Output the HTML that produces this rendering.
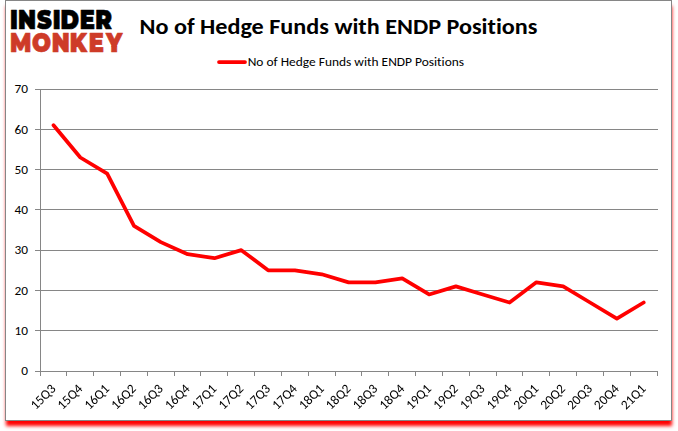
<!DOCTYPE html>
<html><head><meta charset="utf-8"><style>
html,body{margin:0;padding:0;background:#fff;}
body{width:678px;height:431px;position:relative;overflow:hidden;}
.frame{position:absolute;left:5px;top:0;width:665px;height:419px;border:1px solid #868686;background:#fff;box-shadow:0.5px 5.5px 3.5px -0.5px #ff0000;}
svg{position:absolute;left:0;top:0;font-variant-ligatures:none;font-feature-settings:"liga" 0,"clig" 0;}
.xl{will-change:transform;}
.ax{font-family:Carlito,"Liberation Sans",sans-serif;font-size:13.333px;fill:#000;}
.logo{font-family:Montserrat,"DejaVu Sans","Liberation Sans",sans-serif;font-weight:900;font-size:25.9px;stroke-width:0.6px;stroke-linejoin:round;}
.title{font-family:Carlito,"Liberation Sans",sans-serif;font-size:24.2px;font-weight:bold;fill:#000;}
</style></head><body>
<div class="frame"></div>
<svg width="678" height="431" viewBox="0 0 678 431">

<text class="logo" transform="translate(0,28.5) scale(0.864,1)" x="11.60 20.72 42.74 60.96 70.08 92.25 110.34" y="0" fill="#000" stroke="#000">INSIDER</text>
<text class="logo" transform="translate(0,51.6) scale(0.864,1)" x="11.60 37.09 59.84 80.72 102.71 122.97" y="0" fill="#ce3b28" stroke="#ce3b28">MONKEY</text>

<path d="M35 89.5H658 M35 129.5H658 M35 169.5H658 M35 209.5H658 M35 250.5H658 M35 290.5H658 M35 330.5H658 M35 371.5H658 M40.5 89V376 M66.5 372V376 M93.5 372V376 M120.5 372V376 M147.5 372V376 M174.5 372V376 M200.5 372V376 M227.5 372V376 M254.5 372V376 M281.5 372V376 M308.5 372V376 M335.5 372V376 M361.5 372V376 M388.5 372V376 M415.5 372V376 M442.5 372V376 M469.5 372V376 M496.5 372V376 M522.5 372V376 M549.5 372V376 M576.5 372V376 M603.5 372V376 M630.5 372V376 M657.5 372V376" stroke="#868686" stroke-width="1" fill="none" shape-rendering="crispEdges"/><polyline points="53.51,125.26 80.34,157.49 107.17,173.60 133.99,225.97 160.82,242.09 187.64,254.17 214.47,258.20 241.30,250.14 268.12,270.29 294.95,270.29 321.77,274.31 348.60,282.37 375.43,282.37 402.25,278.34 429.08,294.46 455.90,286.40 482.73,294.46 509.56,302.51 536.38,282.37 563.21,286.40 590.03,302.51 616.86,318.63 643.69,302.51" fill="none" stroke="#ff0000" stroke-width="3.75" stroke-linejoin="round" stroke-linecap="round"/><g class="ax"><text transform="translate(28,375.3) scale(1,0.92)" text-anchor="end" textLength="6.765" lengthAdjust="spacingAndGlyphs">0</text><text transform="translate(28,335.3) scale(1,0.92)" text-anchor="end" textLength="13.514" lengthAdjust="spacingAndGlyphs">10</text><text transform="translate(28,295.3) scale(1,0.92)" text-anchor="end" textLength="13.514" lengthAdjust="spacingAndGlyphs">20</text><text transform="translate(28,254.3) scale(1,0.92)" text-anchor="end" textLength="13.514" lengthAdjust="spacingAndGlyphs">30</text><text transform="translate(28,214.3) scale(1,0.92)" text-anchor="end" textLength="13.514" lengthAdjust="spacingAndGlyphs">40</text><text transform="translate(28,174.3) scale(1,0.92)" text-anchor="end" textLength="13.514" lengthAdjust="spacingAndGlyphs">50</text><text transform="translate(28,134.3) scale(1,0.92)" text-anchor="end" textLength="13.514" lengthAdjust="spacingAndGlyphs">60</text><text transform="translate(28,93.3) scale(1,0.92)" text-anchor="end" textLength="13.514" lengthAdjust="spacingAndGlyphs">70</text></g><path d="M219 62H245" stroke="#ff0000" stroke-width="3.75" stroke-linecap="round"/><text transform="translate(247.7,66.1) scale(1,0.93)" class="ax" style="font-size:13.45px" textLength="216.37" lengthAdjust="spacingAndGlyphs">No of Hedge Funds with ENDP Positions</text><text transform="translate(139.5,33.5) scale(1,0.95)" class="title" textLength="397.99" lengthAdjust="spacingAndGlyphs">No of Hedge Funds with ENDP Positions</text>
</svg>
<svg class="xl" width="678" height="431" viewBox="0 0 678 431"><g class="ax"><text transform="translate(56.41,389.6) rotate(-45)" text-anchor="end" textLength="29.234" lengthAdjust="spacingAndGlyphs">15Q3</text><text transform="translate(83.24,389.6) rotate(-45)" text-anchor="end" textLength="29.234" lengthAdjust="spacingAndGlyphs">15Q4</text><text transform="translate(110.07,389.6) rotate(-45)" text-anchor="end" textLength="29.234" lengthAdjust="spacingAndGlyphs">16Q1</text><text transform="translate(136.89,389.6) rotate(-45)" text-anchor="end" textLength="29.234" lengthAdjust="spacingAndGlyphs">16Q2</text><text transform="translate(163.72,389.6) rotate(-45)" text-anchor="end" textLength="29.234" lengthAdjust="spacingAndGlyphs">16Q3</text><text transform="translate(190.54,389.6) rotate(-45)" text-anchor="end" textLength="29.234" lengthAdjust="spacingAndGlyphs">16Q4</text><text transform="translate(217.37,389.6) rotate(-45)" text-anchor="end" textLength="29.234" lengthAdjust="spacingAndGlyphs">17Q1</text><text transform="translate(244.20,389.6) rotate(-45)" text-anchor="end" textLength="29.234" lengthAdjust="spacingAndGlyphs">17Q2</text><text transform="translate(271.02,389.6) rotate(-45)" text-anchor="end" textLength="29.234" lengthAdjust="spacingAndGlyphs">17Q3</text><text transform="translate(297.85,389.6) rotate(-45)" text-anchor="end" textLength="29.234" lengthAdjust="spacingAndGlyphs">17Q4</text><text transform="translate(324.67,389.6) rotate(-45)" text-anchor="end" textLength="29.234" lengthAdjust="spacingAndGlyphs">18Q1</text><text transform="translate(351.50,389.6) rotate(-45)" text-anchor="end" textLength="29.234" lengthAdjust="spacingAndGlyphs">18Q2</text><text transform="translate(378.33,389.6) rotate(-45)" text-anchor="end" textLength="29.234" lengthAdjust="spacingAndGlyphs">18Q3</text><text transform="translate(405.15,389.6) rotate(-45)" text-anchor="end" textLength="29.234" lengthAdjust="spacingAndGlyphs">18Q4</text><text transform="translate(431.98,389.6) rotate(-45)" text-anchor="end" textLength="29.234" lengthAdjust="spacingAndGlyphs">19Q1</text><text transform="translate(458.80,389.6) rotate(-45)" text-anchor="end" textLength="29.234" lengthAdjust="spacingAndGlyphs">19Q2</text><text transform="translate(485.63,389.6) rotate(-45)" text-anchor="end" textLength="29.234" lengthAdjust="spacingAndGlyphs">19Q3</text><text transform="translate(512.46,389.6) rotate(-45)" text-anchor="end" textLength="29.234" lengthAdjust="spacingAndGlyphs">19Q4</text><text transform="translate(539.28,389.6) rotate(-45)" text-anchor="end" textLength="29.234" lengthAdjust="spacingAndGlyphs">20Q1</text><text transform="translate(566.11,389.6) rotate(-45)" text-anchor="end" textLength="29.234" lengthAdjust="spacingAndGlyphs">20Q2</text><text transform="translate(592.93,389.6) rotate(-45)" text-anchor="end" textLength="29.234" lengthAdjust="spacingAndGlyphs">20Q3</text><text transform="translate(619.76,389.6) rotate(-45)" text-anchor="end" textLength="29.234" lengthAdjust="spacingAndGlyphs">20Q4</text><text transform="translate(646.59,389.6) rotate(-45)" text-anchor="end" textLength="29.234" lengthAdjust="spacingAndGlyphs">21Q1</text></g></svg>
</body></html>
